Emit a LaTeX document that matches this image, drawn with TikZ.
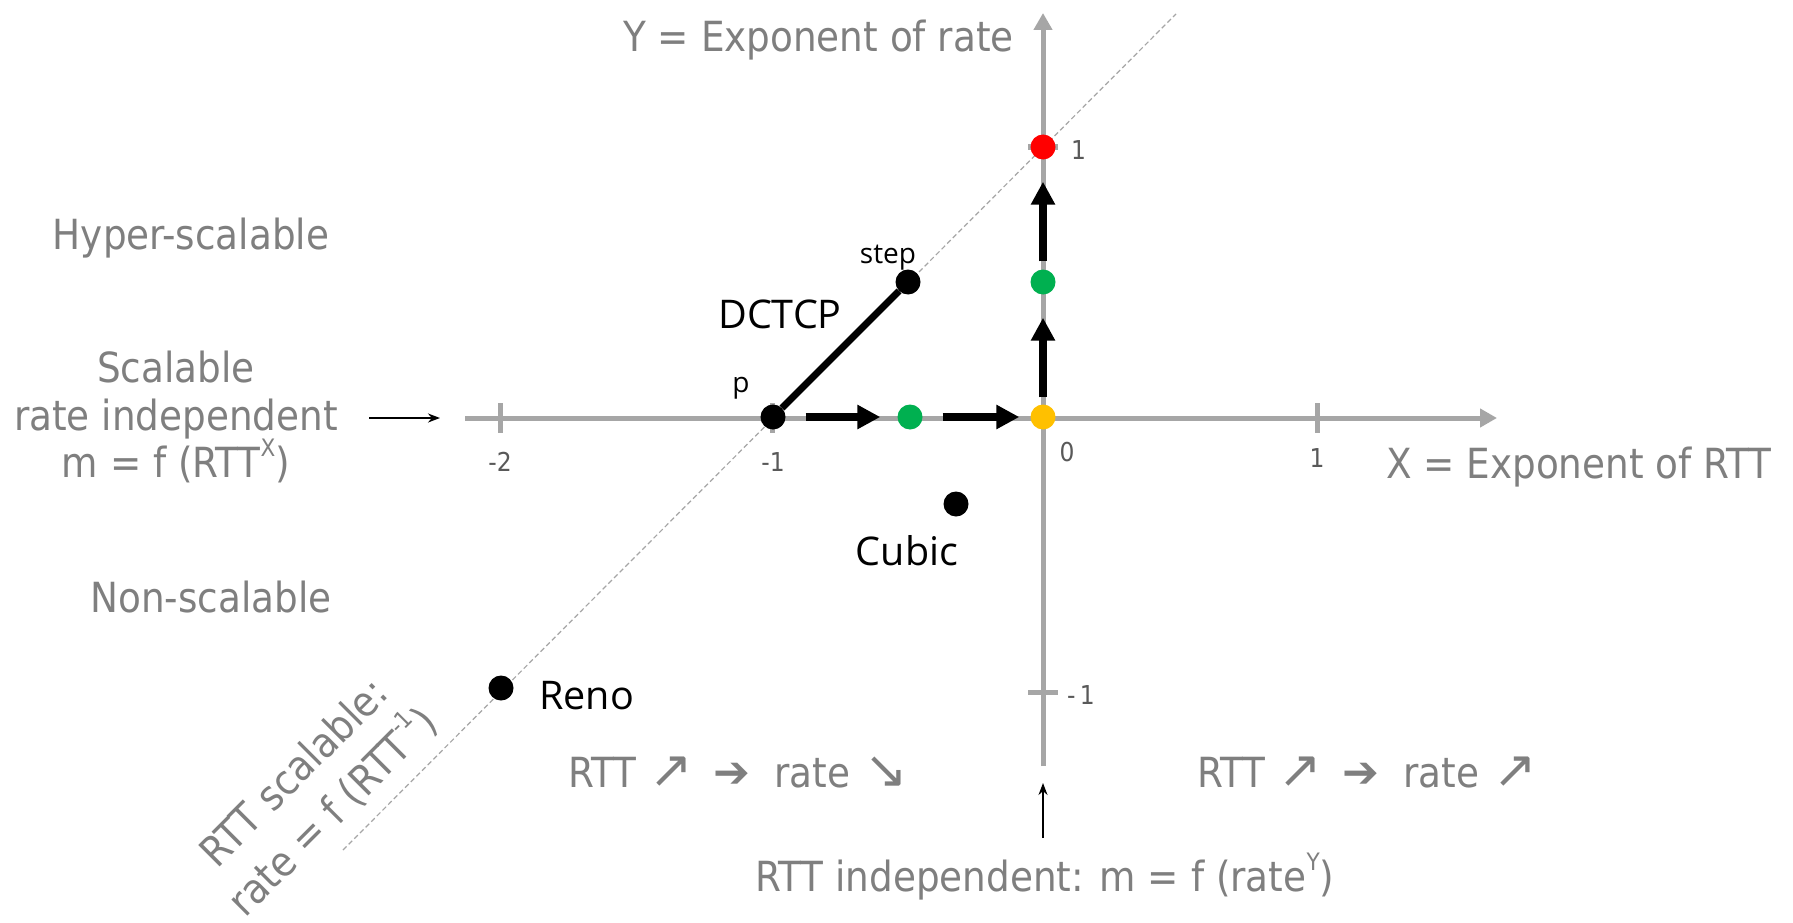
\documentclass[tikz,border=0pt]{standalone}
\usepackage{fontspec}
\setmainfont{DejaVu Sans Condensed}
\newfontfamily\blk{Open Sans}
\newfontfamily\sym{DejaVu Sans}
\usetikzlibrary{arrows.meta}
\definecolor{axisgray}{HTML}{A6A6A6}
\definecolor{txtgray}{HTML}{7F7F7F}
\definecolor{tickgray}{HTML}{595959}
\definecolor{dotred}{HTML}{FF0000}
\definecolor{dotgreen}{HTML}{00B050}
\definecolor{dotyellow}{HTML}{FFC000}
\newcommand{\sps}[1]{\raisebox{0.5em}{\fontsize{24}{24}\selectfont #1}}
\newcommand{\arrNE}{{\sym\fontsize{52}{52}\selectfont ↗}}
\newcommand{\arrSE}{{\sym\fontsize{52}{52}\selectfont ↘}}
\newcommand{\arrTHEN}{{\sym\fontsize{44}{44}\selectfont ➔}}
\tikzset{
  axisline/.style={draw=axisgray, line width=5pt, -{Triangle[length=17pt,width=18pt]}},
  tickmark/.style={draw=axisgray, line width=5pt},
  dot/.style={circle, inner sep=0pt, minimum size=25pt},
  gtxt/.style={text=txtgray, font=\fontsize{41.5}{48}\selectfont, inner sep=0pt},
  ticklab/.style={text=tickgray, font=\fontsize{26}{30}\selectfont, inner sep=0pt},
  btxt/.style={font=\blk\fontsize{39.5}{44}\selectfont, inner sep=0pt},
  stxt/.style={font=\blk\fontsize{28}{30}\selectfont, inner sep=0pt},
  flow/.style={line width=8pt, -{Triangle[length=23pt,width=23pt]}},
  pointer/.style={line width=1.8pt, -{Stealth[length=12pt,width=9pt]}},
  diag/.style={draw=axisgray, line width=1.2pt, dash pattern=on 5pt off 3pt}
}
\begin{document}
\begin{tikzpicture}[x=1pt,y=-1pt]
\useasboundingbox[fill=white] (0,0) rectangle (1793,923);
% diagonal
\coordinate (d1) at (343,850);
\coordinate (d2) at (1176,14);
\draw[diag] (d1) -- (d2);
% axes
\coordinate (xs) at (465,418);
\coordinate (xe) at (1497,418);
\coordinate (ys) at (1043,766);
\coordinate (ye) at (1043,13);
\draw[axisline] (xs) -- (xe);
\draw[axisline] (ys) -- (ye);
% ticks
\coordinate (tx2a) at (500,403); \coordinate (tx2b) at (500,433);
\coordinate (tx1a) at (772,403); \coordinate (tx1b) at (772,433);
\coordinate (txpa) at (1317,403); \coordinate (txpb) at (1317,433);
\coordinate (typa) at (1028,147); \coordinate (typb) at (1058,147);
\coordinate (tyma) at (1028,692); \coordinate (tymb) at (1058,692);
\draw[tickmark] (tx2a) -- (tx2b);
\draw[tickmark] (tx1a) -- (tx1b);
\draw[tickmark] (txpa) -- (txpb);
\draw[tickmark] (typa) -- (typb);
\draw[tickmark] (tyma) -- (tymb);
% tick labels
\node[ticklab, anchor=base] (lm2) at (500,471) {-2};
\node[ticklab, anchor=base] (lm1) at (773,471) {-1};
\node[ticklab, anchor=base] (l0) at (1067,461) {0};
\node[ticklab, anchor=base] (lp1) at (1317,467) {1};
\node[ticklab, anchor=base west] (ly1) at (1071,159) {1};
\node[ticklab, anchor=base west] (lym1) at (1067,704) {-\,1};
% axis labels
\node[gtxt, anchor=base east] (ylab) at (1014,52) {Y = Exponent of rate};
\node[gtxt, anchor=base west] (xlab) at (1386,478) {X = Exponent of RTT};
% left labels
\node[gtxt, anchor=base] (hyper) at (191,249) {Hyper-scalable};
\node[gtxt, anchor=base] (scal1) at (176,382) {Scalable};
\node[gtxt, anchor=base] (scal2) at (176,430) {rate independent};
\node[gtxt, anchor=base] (scal3) at (176,477) {m = f (RTT\sps{X})};
\node[gtxt, anchor=base] (nons) at (211,612) {Non-scalable};
\coordinate (ls) at (369,418);
\coordinate (le) at (440,418);
\draw[pointer] (ls) -- (le);
% rotated label
\node[gtxt, align=center, rotate=45] (rttsc) at (314,793) {RTT scalable:\\[7pt]rate = f (RTT\sps{-1})};
% bottom labels
\node[gtxt, anchor=base west] (rl) at (568,787) {RTT\hspace{14pt}\arrNE\hspace{20pt}\arrTHEN\hspace{24pt}rate\hspace{14pt}\arrSE};
\node[gtxt, anchor=base west] (rr) at (1197,787) {RTT\hspace{14pt}\arrNE\hspace{20pt}\arrTHEN\hspace{24pt}rate\hspace{14pt}\arrNE};
\node[gtxt, anchor=base] (rttind) at (1045,891) {RTT independent: m = f (rate\sps{Y})};
\coordinate (bs) at (1043,838);
\coordinate (be) at (1043,783);
\draw[pointer] (bs) -- (be);
% dots
\node[dot, fill=dotred] (red) at (1043,147) {};
\node[dot, fill=dotgreen] (g1) at (1043,282) {};
\node[dot, fill=dotyellow] (yel) at (1043,417) {};
\node[dot, fill=dotgreen] (g2) at (910,417) {};
\node[dot, fill=black] (p) at (773,417) {};
\node[dot, fill=black] (step) at (908,282) {};
\node[dot, fill=black] (cubic) at (956,504) {};
\node[dot, fill=black] (reno) at (501,688) {};
\draw[line width=7pt] (p) -- (step);
% flow arrows
\draw[flow, shorten <=20pt, shorten >=17pt] (p) -- (g2);
\draw[flow, shorten <=20pt, shorten >=11pt] (g2) -- (yel);
\draw[flow, shorten <=7pt, shorten >=23pt] (yel) -- (g1);
\draw[flow, shorten <=8pt, shorten >=22pt] (g1) -- (red);
% black labels
\node[stxt, anchor=base] (steplab) at (888,263) {step};
\node[stxt, anchor=base] (plab) at (741,392) {p};
\node[btxt, anchor=base] (dctcp) at (780,328) {DCTCP};
\node[btxt, anchor=base] (cublab) at (907,565) {Cubic};
\node[btxt, anchor=base west] (renolab) at (539,709) {Reno};
\end{tikzpicture}
\end{document}
